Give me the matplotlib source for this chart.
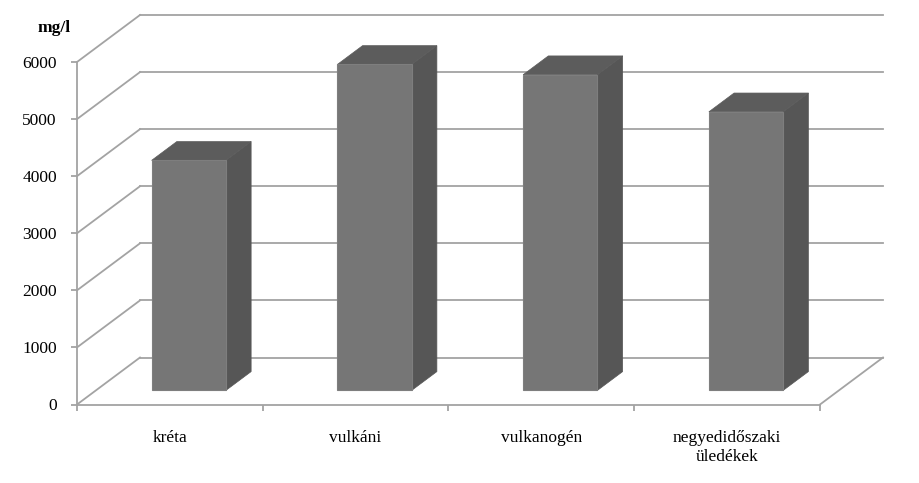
import numpy as np
import matplotlib
matplotlib.use('Agg')
import matplotlib.pyplot as plt
from matplotlib.patches import Polygon

# data
categories = ['kréta', 'vulkáni', 'vulkanogén', 'negyedidőszaki\nüledékek']
values = [4030, 5710, 5530, 4880]
yticks = [0, 1000, 2000, 3000, 4000, 5000, 6000]
unit = 'mg/l'

plt.rcParams['font.family'] = ['Liberation Serif', 'DejaVu Serif']

W, H = 919, 483
fig = plt.figure(figsize=(W/100, H/100), dpi=100)
# axes = front floor edge / front wall edge, in pixels
x0, x1 = 77, 820
y0, y6 = 404.5, 62
ax = fig.add_axes([x0/W, (H-y0)/H, (x1-x0)/W, (y0-y6)/H])
ax.set_xlim(0, 4)
ax.set_ylim(0, 6000)

# oblique depth offset (full depth), in data units
DX = 63/((x1-x0)/4)
DV = 47/((y0-y6)/6000)

def proj(x, v, d):
    return (x + d*DX, v + d*DV)

grid = '#a3a3a3'
lw = 1.3

# back wall gridlines and left wall diagonals
for t in yticks:
    a = proj(0, t, 1)
    b = proj(4, t, 1)
    ax.plot([a[0], b[0]], [a[1], b[1]], color=grid, lw=lw, clip_on=False, zorder=1)
    ax.plot([0, a[0]], [t, a[1]], color=grid, lw=lw, clip_on=False, zorder=1)

# right floor edge
c = proj(4, 0, 1)
ax.plot([4, c[0]], [0, c[1]], color=grid, lw=lw, clip_on=False, zorder=1)

# bars
width = 0.4
d0, d1 = 0.3, 0.7
front_c = '#767676'
side_c = '#565656'
top_c = '#5c5c5c'
for i, v in enumerate(values):
    xl = i + 0.5 - width/2
    xr = i + 0.5 + width/2
    front = [proj(xl, 0, d0), proj(xr, 0, d0), proj(xr, v, d0), proj(xl, v, d0)]
    side = [proj(xr, 0, d0), proj(xr, 0, d1), proj(xr, v, d1), proj(xr, v, d0)]
    top = [proj(xl, v, d0), proj(xr, v, d0), proj(xr, v, d1), proj(xl, v, d1)]
    ax.add_patch(Polygon(side, closed=True, fc=side_c, ec=side_c, lw=0.5, clip_on=False, zorder=3))
    ax.add_patch(Polygon(top, closed=True, fc=top_c, ec=top_c, lw=0.5, clip_on=False, zorder=3))
    ax.add_patch(Polygon(front, closed=True, fc=front_c, ec='#7e7e7e', lw=0.8, clip_on=False, zorder=4))

# axes styling
for s in ['top', 'right']:
    ax.spines[s].set_visible(False)
for s in ['left', 'bottom']:
    ax.spines[s].set_color(grid)
    ax.spines[s].set_linewidth(lw)

fs = 12.5
ax.set_yticks(yticks)
ax.set_yticklabels([str(t) for t in yticks], fontsize=fs)
ax.tick_params(axis='y', direction='out', length=4.5, width=lw, color=grid, pad=10)

ax.set_xticks(np.arange(0, 5))
ax.set_xticklabels([])
ax.tick_params(axis='x', which='major', direction='out', length=4, width=lw, color=grid)
ax.set_xticks(np.arange(len(categories)) + 0.5, minor=True)
ax.set_xticklabels(categories, minor=True, fontsize=fs, linespacing=1.3)
ax.tick_params(axis='x', which='minor', length=0, pad=18)

fig.text(54/W, 1 - 28/H, unit, ha='center', va='center', fontsize=fs, fontweight='bold')

fig.savefig('out.png', dpi=100, facecolor='white')
